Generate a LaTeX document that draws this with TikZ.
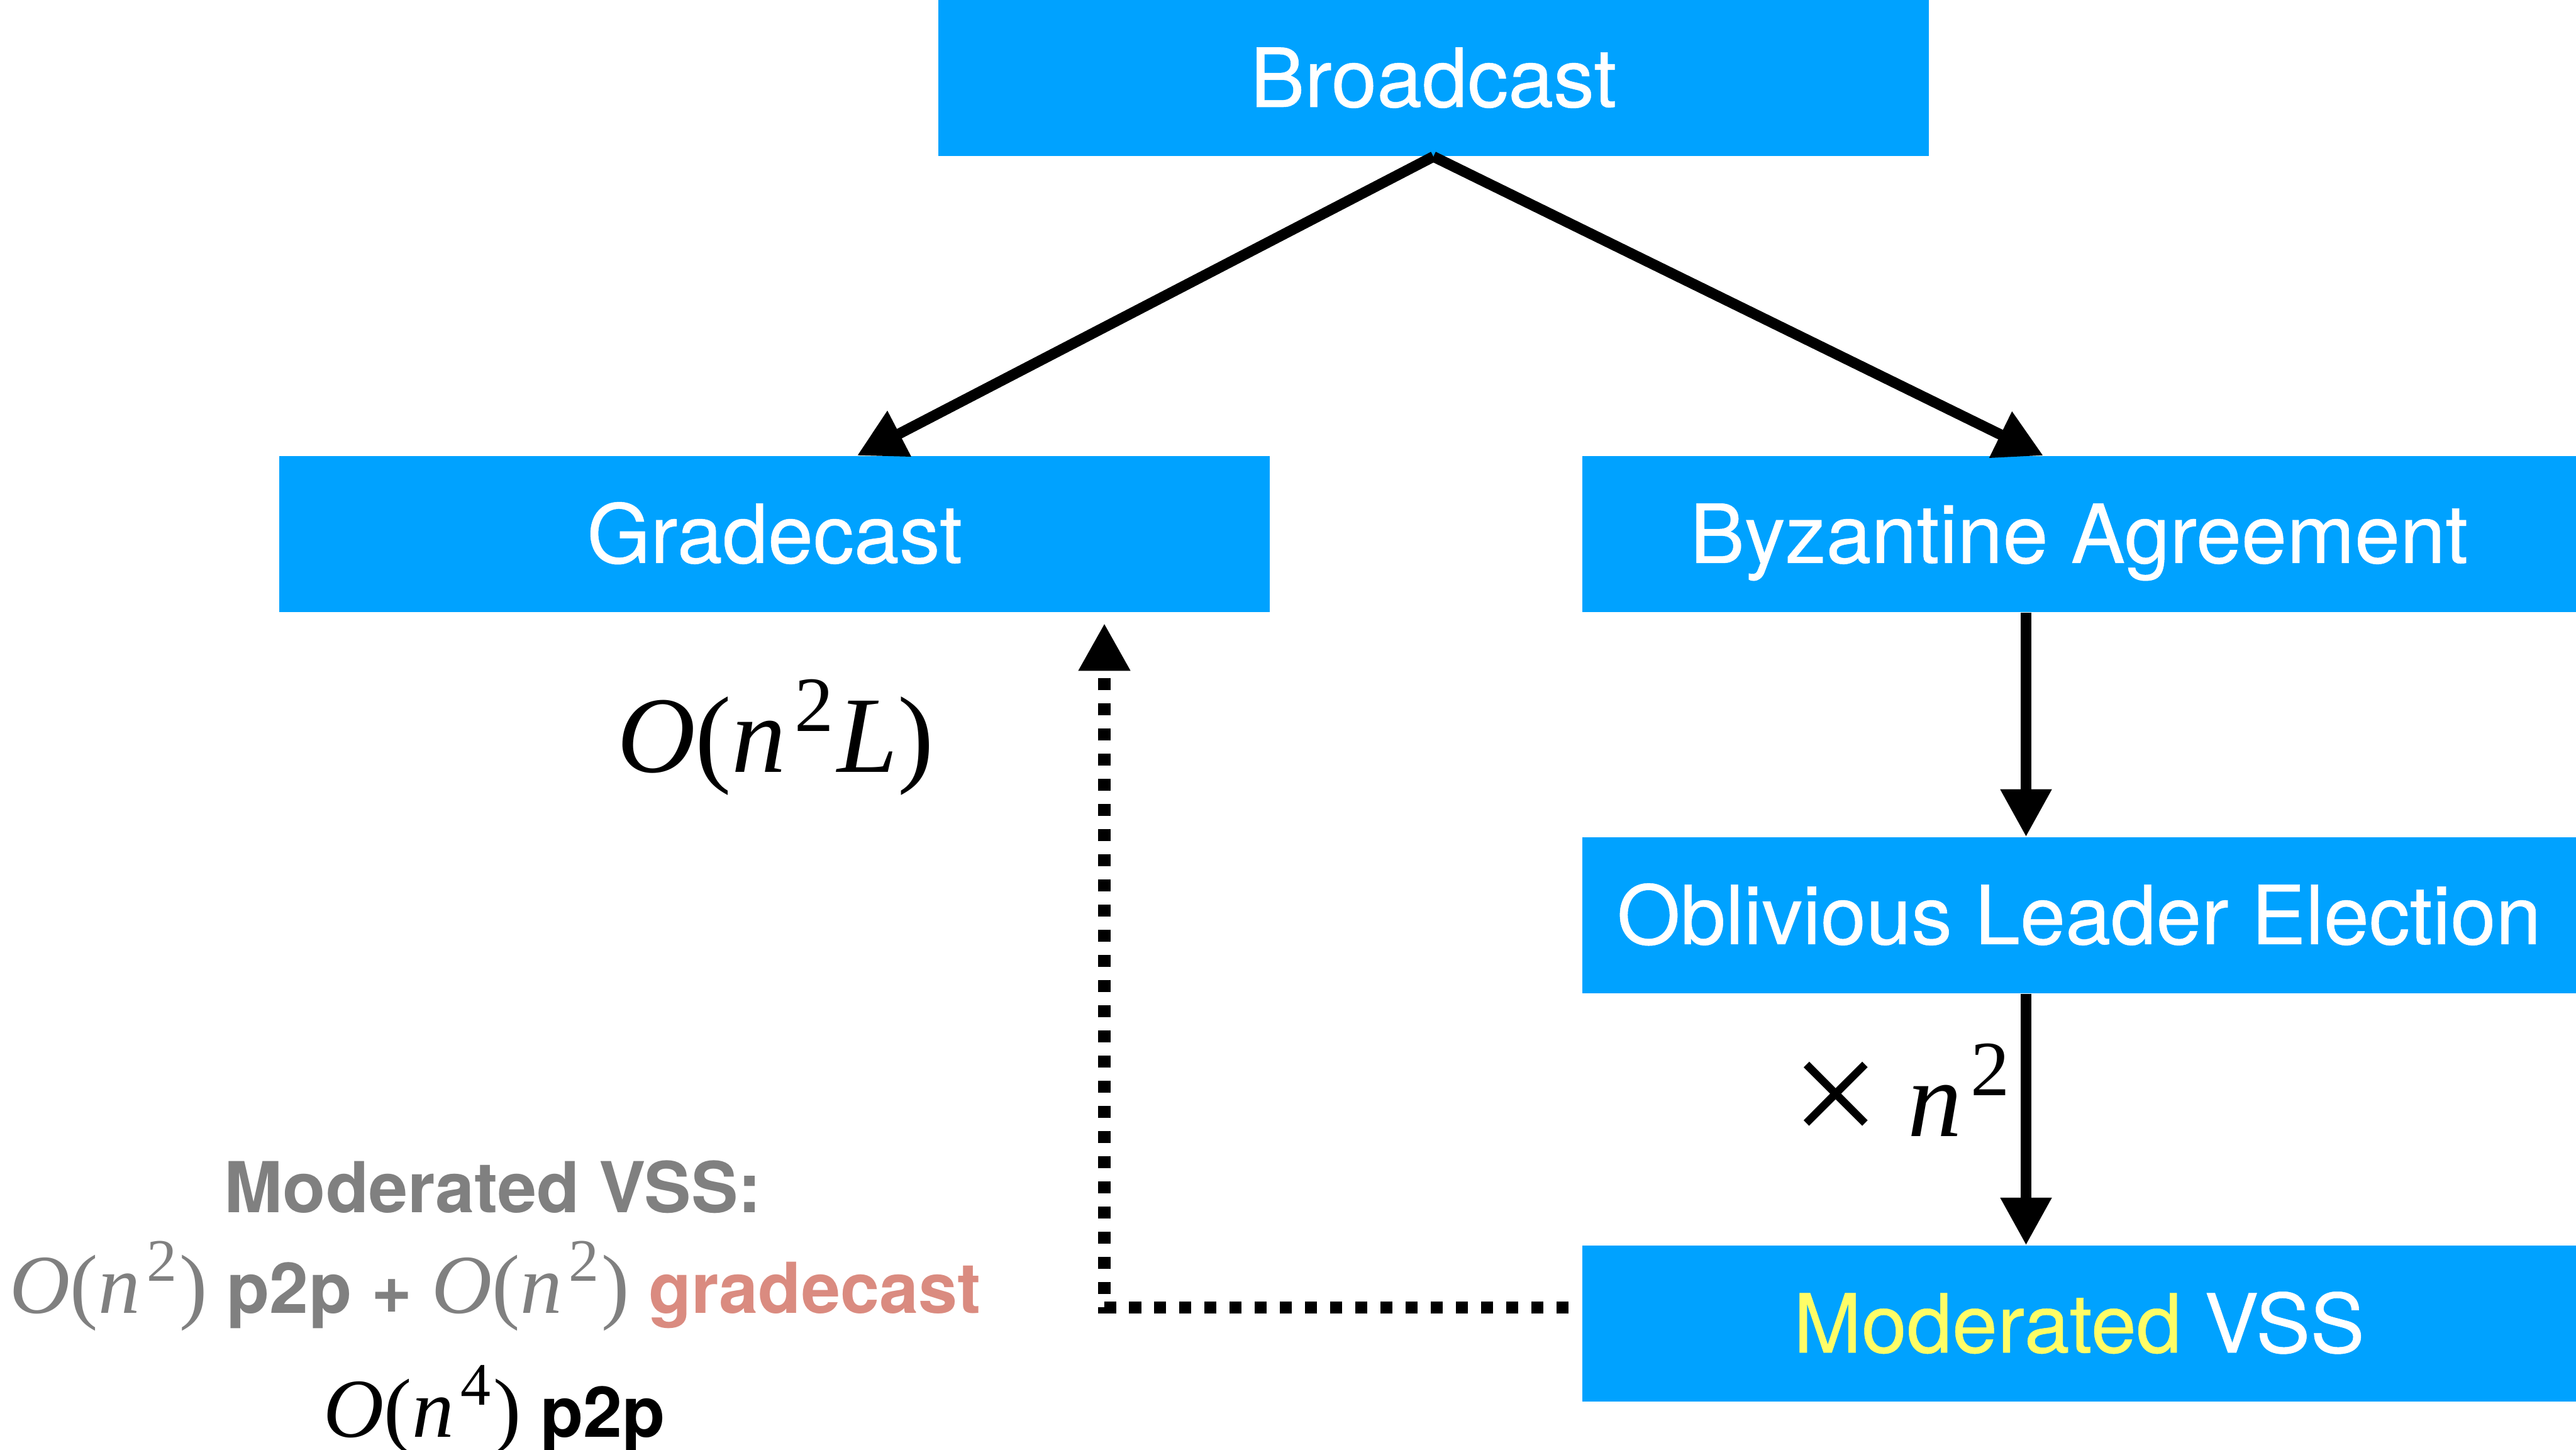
\documentclass[tikz,border=0pt]{standalone}
\usepackage{fontspec}
\usepackage{graphicx}
\setmainfont{TeX Gyre Heros}
\newfontfamily\medfont{TeX Gyre Heros}[FakeBold=0.4]
\newfontfamily\tms{Liberation Serif}
\usetikzlibrary{arrows.meta,calc}

\definecolor{boxblue}{HTML}{00A2FF}
\definecolor{hlyellow}{HTML}{FFFD66}
\definecolor{costgray}{HTML}{808080}
\definecolor{gcsalmon}{HTML}{DA8B80}

% drawing unit
\newcommand\ux{0.0255cm}
% Times-like formula pieces
\newcommand\fit[1]{{\tms\mdseries\itshape #1}}
\newcommand\fup[1]{{\tms\mdseries\upshape #1}}
\newcommand\fsup[1]{\kern0.08em\raisebox{0.38em}{\scalebox{0.72}{\fup{#1}}}\kern0.03em}
\newcommand\ftimes{\raisebox{-0.09em}{\scalebox{1.45}{\fup{×}}}}

\tikzset{
  module/.style={fill=boxblue, text=white, inner sep=0pt,
    minimum height=95*\ux, text height=25.5pt, text depth=0pt,
    font=\medfont\fontsize{36}{43}\selectfont},
  flow/.style={line width=4.7pt, -{Triangle[length=21pt,width=21.5pt]}},
  callback/.style={line width=5.3pt, dash pattern=on 5.3pt off 5.8pt,
    -{Triangle[length=21pt,width=21.5pt]}},
  formula/.style={anchor=base, font=\fontsize{48}{58}\selectfont},
  note/.style={anchor=base, font=\fontsize{31}{37}\selectfont},
}

\begin{document}
\begin{tikzpicture}[x=\ux, y=-\ux]
\useasboundingbox (0,0) rectangle (1568,882);

% protocol modules
\node[module, minimum width=603*\ux] (bc)  at (872.5,47.5)  {Broadcast};
\node[module, minimum width=603*\ux] (gc)  at (471.5,325)   {Gradecast};
\node[module, minimum width=605*\ux] (ba)  at (1265.5,325)  {Byzantine Agreement};
\node[module, minimum width=605*\ux] (ole) at (1265.5,557)  {Oblivious Leader Election};
\node[module, minimum width=605*\ux] (mv)  at (1265.5,805.5) {\textcolor{hlyellow}{Moderated} VSS};

% reductions
\draw[flow] (bc.south) -- ($(gc.north west)+(352,0)$);
\draw[flow] (bc.south) -- ($(ba.north west)+(281,0)$);
\draw[flow] ($(ba.south west)+(270.5,0)$) -- ($(ole.north west)+(270.5,0)$);
\draw[flow] ($(ole.south west)+(270.5,0)$) -- ($(mv.north west)+(270.5,0)$);

% moderated VSS calls gradecast
\coordinate (cbstart) at ($(mv.west)+(-8,-10)$);
\coordinate (cbend) at ($(gc.south west)+(502.5,6.5)$);
\draw[callback] (cbstart) -- (cbstart -| cbend) -- (cbend);

% costs
\node[formula] (gccost) at (472,470) {\fit{O}\fup{(}\fit{n}\fsup{2}\fit{L}\fup{)}};
\node[formula] (mult) at (1158,691.7) {\ftimes\hspace{0.25em}\fit{n}\fsup{2}};

\node[note, text=costgray, font=\bfseries\fontsize{31}{37}\selectfont] (mvhead) at (300,738) {Moderated VSS:};
\node[note, text=costgray] (mvcost) at (301.5,799)
  {{\fontsize{37}{44}\selectfont\fit{O}\fup{(}\fit{n}\fsup{2}\fup{)}} \textbf{p2p +} {\fontsize{37}{44}\selectfont\fit{O}\fup{(}\fit{n}\fsup{2}\fup{)}} \textcolor{gcsalmon}{\textbf{gradecast}}};
\node[note] (total) at (301,874.5)
  {{\fontsize{37}{44}\selectfont\fit{O}\fup{(}\fit{n}\fsup{4}\fup{)}} \textbf{p2p}};
\end{tikzpicture}
\end{document}
